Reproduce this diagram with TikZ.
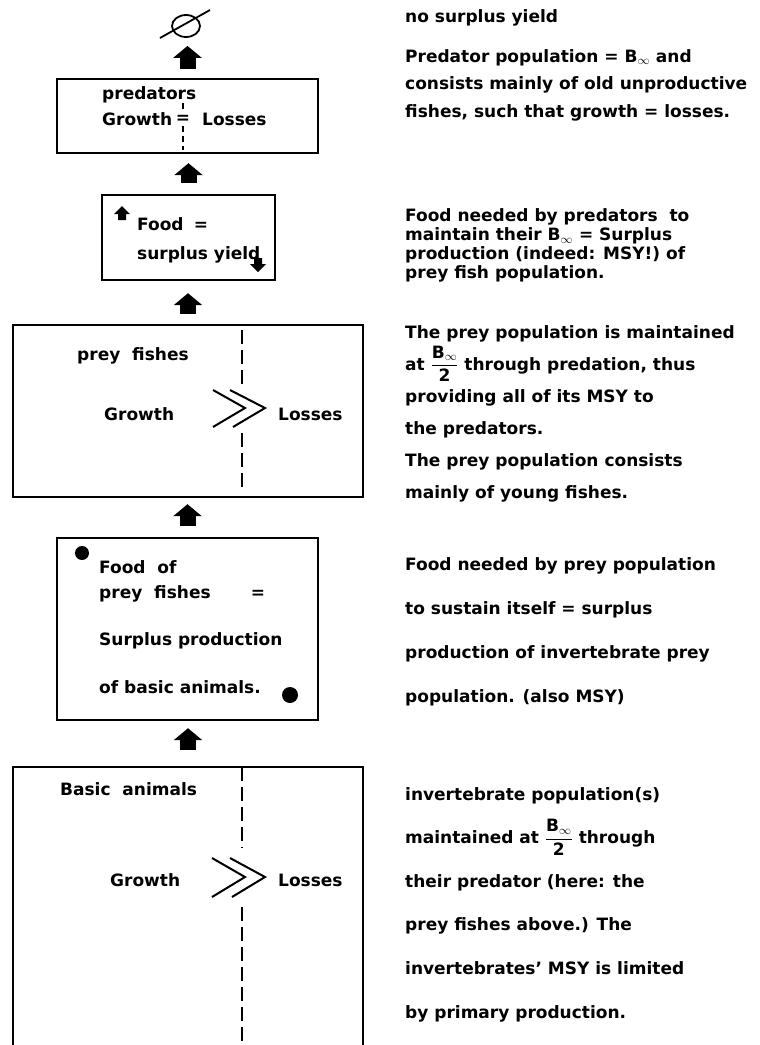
\documentclass[tikz,border=0pt]{standalone}
\usepackage{amsmath}
\usepackage{fontspec}
\setmainfont{DejaVu Sans}
\usetikzlibrary{arrows.meta,shapes.geometric}
\setlength{\lineskiplimit}{-50pt}
\tikzset{
  box/.style={draw,line width=2.4pt,inner sep=0pt},
  lift/.style={line width=16pt,-{Triangle[width=28pt,length=12pt]}},
  txt/.style={anchor=base west,inner sep=0pt,font=\fontsize{17}{20}\selectfont\bfseries},
  divide/.style={line width=1.6pt,dash pattern=on 14pt off 6pt},
  chev/.style={line width=2pt}
}
\newcommand{\half}{$\dfrac{\text{B}_{\infty}}{\text{2}}$}

\begin{document}
\begin{tikzpicture}[x=1pt,y=-1pt]
\useasboundingbox (0,0) rectangle (760,1045);
\node[ellipse,draw,line width=1.8pt,minimum width=28pt,minimum height=22pt,inner sep=0pt] (Nil) at (186,26) {};
\draw[line width=1.8pt] (160,38) -- (210,10);
\node[box,minimum width=261pt,minimum height=74pt] (Pred) at (187.5,116) {};
\node[box,minimum width=173pt,minimum height=85pt] (Food) at (188.5,237.5) {};
\node[box,minimum width=350pt,minimum height=172pt] (Prey) at (188,411) {};
\node[box,minimum width=261pt,minimum height=182pt] (Feed) at (187.5,629) {};
\node[inner sep=0pt,minimum width=350pt,minimum height=278pt] (Base) at (188,906) {};
\draw[line width=2.4pt] (Base.south west) |- (Base.north east) -- (Base.south east);
\draw[lift,shorten <=9pt,shorten >=8pt] (Pred.north) -- (Pred.north |- Nil.south);
\draw[lift,shorten <=11pt,shorten >=9pt] (Food.north) -- (Food.north |- Pred.south);
\draw[lift,shorten <=10pt,shorten >=12pt] (Prey.north) -- (Prey.north |- Food.south);
\draw[lift,shorten <=11pt,shorten >=6pt] (Feed.north) -- (Feed.north |- Prey.south);
\draw[lift,shorten <=17pt,shorten >=7pt] (Base.north) -- (Base.north |- Feed.south);
\node[txt] (P1) at (102,99) {predators};
\node[txt] (P2) at (102,125) {Growth};
\node[txt,anchor=base] (P3) at (183,123) {=};
\node[txt] (P4) at (202,125) {Losses};
\draw[line width=1.2pt,dash pattern=on 6pt off 4pt] (183,103) -- (183,110);
\draw[line width=1.2pt,dash pattern=on 6pt off 4pt] (183,126) -- (183,150);
\node[txt] (F1) at (137,230) {Food};
\node[txt,anchor=base] (F2) at (201,230) {=};
\node[txt] (F3) at (137,259) {surplus yield};
\fill[shift={(122,213)}] (-4,7) -- (-4,1) -- (-8,1) -- (0,-7) -- (8,1) -- (4,1) -- (4,7) -- cycle;
\fill[shift={(258,265)}] (-4,-7) -- (-4,-1) -- (-8,-1) -- (0,7) -- (8,-1) -- (4,-1) -- (4,-7) -- cycle;
\node[txt] (R1) at (77,360) {prey~ fishes};
\node[txt] (R2) at (104,420) {Growth};
\node[txt] (R3) at (278,420) {Losses};
\draw[divide] (242,330) -- (242,387);
\draw[divide] (242,433) -- (242,490);
\draw[chev] (213,390) -- (245,408) -- (213,427);
\draw[chev] (230,390) -- (265,408) -- (233,427);
\fill (82,553) circle (7pt);
\fill (290,695) circle (8pt);
\node[txt] (E1) at (99,573) {Food~ of};
\node[txt] (E2) at (99,598) {prey~ fishes};
\node[txt,anchor=base] (E3) at (258,598) {=};
\node[txt] (E4) at (99,645) {Surplus production};
\node[txt] (E5) at (99,693) {of basic animals.};
\node[txt] (B1) at (60,795) {Basic~ animals};
\node[txt] (B2) at (110,886) {Growth};
\node[txt] (B3) at (278,886) {Losses};
\draw[divide] (242,767) -- (242,848);
\draw[divide] (242,907) -- (242,1045);
\draw[chev] (212,858) -- (245,877) -- (212,897);
\draw[chev] (230,858) -- (265,877) -- (232,897);
\node[txt] (N1) at (405,22) {no surplus yield};
\node[txt,align=left,font=\fontsize{17}{27.5}\selectfont\bfseries] (N2) at (405,117) {Predator population = B$_\infty$ and\\consists mainly of old unproductive\\fishes, such that growth = losses.};
\node[txt,align=left,font=\fontsize{17}{18.7}\selectfont\bfseries] (N3) at (405,278) {Food needed by predators~ to\\maintain their B$_\infty$ = Surplus\\production (indeed: MSY!) of\\prey fish population.};
\node[txt,align=left,font=\fontsize{17}{32}\selectfont\bfseries] (N4) at (405,498) {The prey population is maintained\\at \half{} through predation, thus\\providing all of its MSY to\\the predators.\\The prey population consists\\mainly of young fishes.};
\node[txt,align=left,font=\fontsize{17}{44}\selectfont\bfseries] (N5) at (405,702) {Food needed by prey population\\to sustain itself = surplus\\production of invertebrate prey\\population. (also MSY)};
\node[txt,align=left,font=\fontsize{17}{43.6}\selectfont\bfseries] (N6) at (405,1018) {invertebrate population(s)\\maintained at \half{} through\\their predator (here: the\\prey fishes above.) The\\invertebrates' MSY is limited\\by primary production.};
\end{tikzpicture}
\end{document}
